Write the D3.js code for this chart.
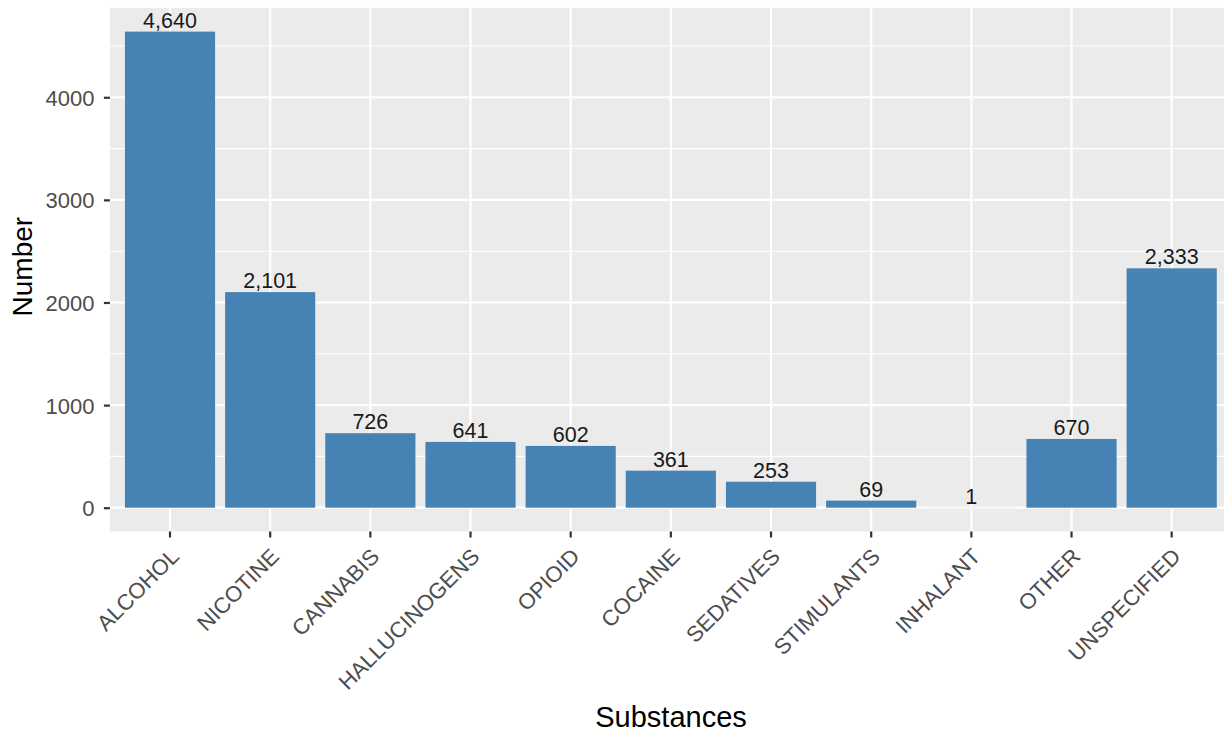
<!DOCTYPE html>
<html>
<head>
<meta charset="utf-8">
<script src="https://cdn.jsdelivr.net/npm/d3@7"></script>
<style>
  body { margin: 0; background: #fff; }
  text { font-family: "Liberation Sans", Arial, sans-serif; }
</style>
</head>
<body>
<div id="chart"></div>
<script>
const substances = ["ALCOHOL", "NICOTINE", "CANNABIS", "HALLUCINOGENS", "OPIOID", "COCAINE",
    "SEDATIVES", "STIMULANTS", "INHALANT", "OTHER", "UNSPECIFIED"]
const counts = [4640, 2101, 726, 641, 602, 361, 253, 69, 1, 670, 2333]
const yTicks = [0, 1000, 2000, 3000, 4000]
const yMinor = [500, 1500, 2500, 3500, 4500]

const W = 1224, H = 734
const panel = { left: 109.9, right: 1231.8, top: 7.8, bottom: 531.5 }

const svg = d3.select("#chart")
    .append("svg")
    .attr("width", W)
    .attr("height", H)

const maxV = d3.max(counts)
const x = d3.scaleBand()
    .domain(substances)
    .range([panel.left, panel.right])
    .paddingInner(0.1)
    .paddingOuter(0.15)
const y = d3.scaleLinear()
    .domain([-maxV * 0.05, maxV * 1.05])
    .range([panel.bottom, panel.top])

// panel background
svg.append("rect")
    .attr("x", panel.left)
    .attr("y", panel.top)
    .attr("width", panel.right - panel.left)
    .attr("height", panel.bottom - panel.top)
    .attr("fill", "#ebebeb")

// minor gridlines
svg.selectAll(".minor")
    .data(yMinor)
    .join("line")
    .attr("x1", panel.left).attr("x2", panel.right)
    .attr("y1", d => y(d)).attr("y2", d => y(d))
    .attr("stroke", "#fff").attr("stroke-width", 1.1)

// major gridlines
svg.selectAll(".major")
    .data(yTicks)
    .join("line")
    .attr("x1", panel.left).attr("x2", panel.right)
    .attr("y1", d => y(d)).attr("y2", d => y(d))
    .attr("stroke", "#fff").attr("stroke-width", 2.2)

svg.selectAll(".vgrid")
    .data(substances)
    .join("line")
    .attr("x1", d => x(d) + x.bandwidth() / 2).attr("x2", d => x(d) + x.bandwidth() / 2)
    .attr("y1", panel.top).attr("y2", panel.bottom)
    .attr("stroke", "#fff").attr("stroke-width", 2.2)

// bars
svg.selectAll(".bar")
    .data(substances)
    .join("rect")
    .attr("x", d => x(d))
    .attr("y", (d, i) => y(counts[i]))
    .attr("width", x.bandwidth())
    .attr("height", (d, i) => y(0) - y(counts[i]))
    .attr("fill", "#4682b4")

// bar labels
svg.selectAll(".lbl")
    .data(substances)
    .join("text")
    .attr("x", d => x(d) + x.bandwidth() / 2)
    .attr("y", (d, i) => y(counts[i]) - 4)
    .attr("text-anchor", "middle")
    .style("font-size", "21.5px")
    .attr("fill", "#1a1a1a")
    .text((d, i) => d3.format(",")(counts[i]))

// y axis
const yAxis = svg.append("g")
    .attr("transform", `translate(${panel.left},0)`)
    .call(d3.axisLeft(y).tickValues(yTicks).tickSize(6).tickPadding(9.5).tickFormat(d3.format("d")))
yAxis.select(".domain").remove()
yAxis.selectAll(".tick line").attr("stroke", "#333").attr("stroke-width", 2.2)
yAxis.selectAll(".tick text")
    .attr("fill", "#4d4d4d")
    .style("font-size", "22px")
    .attr("dy", "0.36em")

// x axis
const xAxis = svg.append("g")
    .attr("transform", `translate(0,${panel.bottom})`)
    .call(d3.axisBottom(x).tickSize(6).tickPadding(0))
xAxis.select(".domain").remove()
xAxis.selectAll(".tick line").attr("stroke", "#333").attr("stroke-width", 2.2)
xAxis.selectAll(".tick text")
    .attr("fill", "#4d4d4d")
    .style("font-size", "22px")
    .attr("text-anchor", "end")
    .attr("y", 0)
    .attr("dy", 0)
    .attr("transform", "translate(-1,15) rotate(-45)")
    .attr("dominant-baseline", "hanging")

// axis titles
svg.append("text")
    .attr("x", 671)
    .attr("y", 727)
    .attr("text-anchor", "middle")
    .style("font-size", "29px")
    .attr("fill", "#000")
    .text("Substances")

svg.append("text")
    .attr("transform", `translate(32,${(panel.top + panel.bottom) / 2 - 3}) rotate(-90)`)
    .attr("text-anchor", "middle")
    .style("font-size", "28px")
    .attr("fill", "#000")
    .text("Number")
</script>
</body>
</html>
